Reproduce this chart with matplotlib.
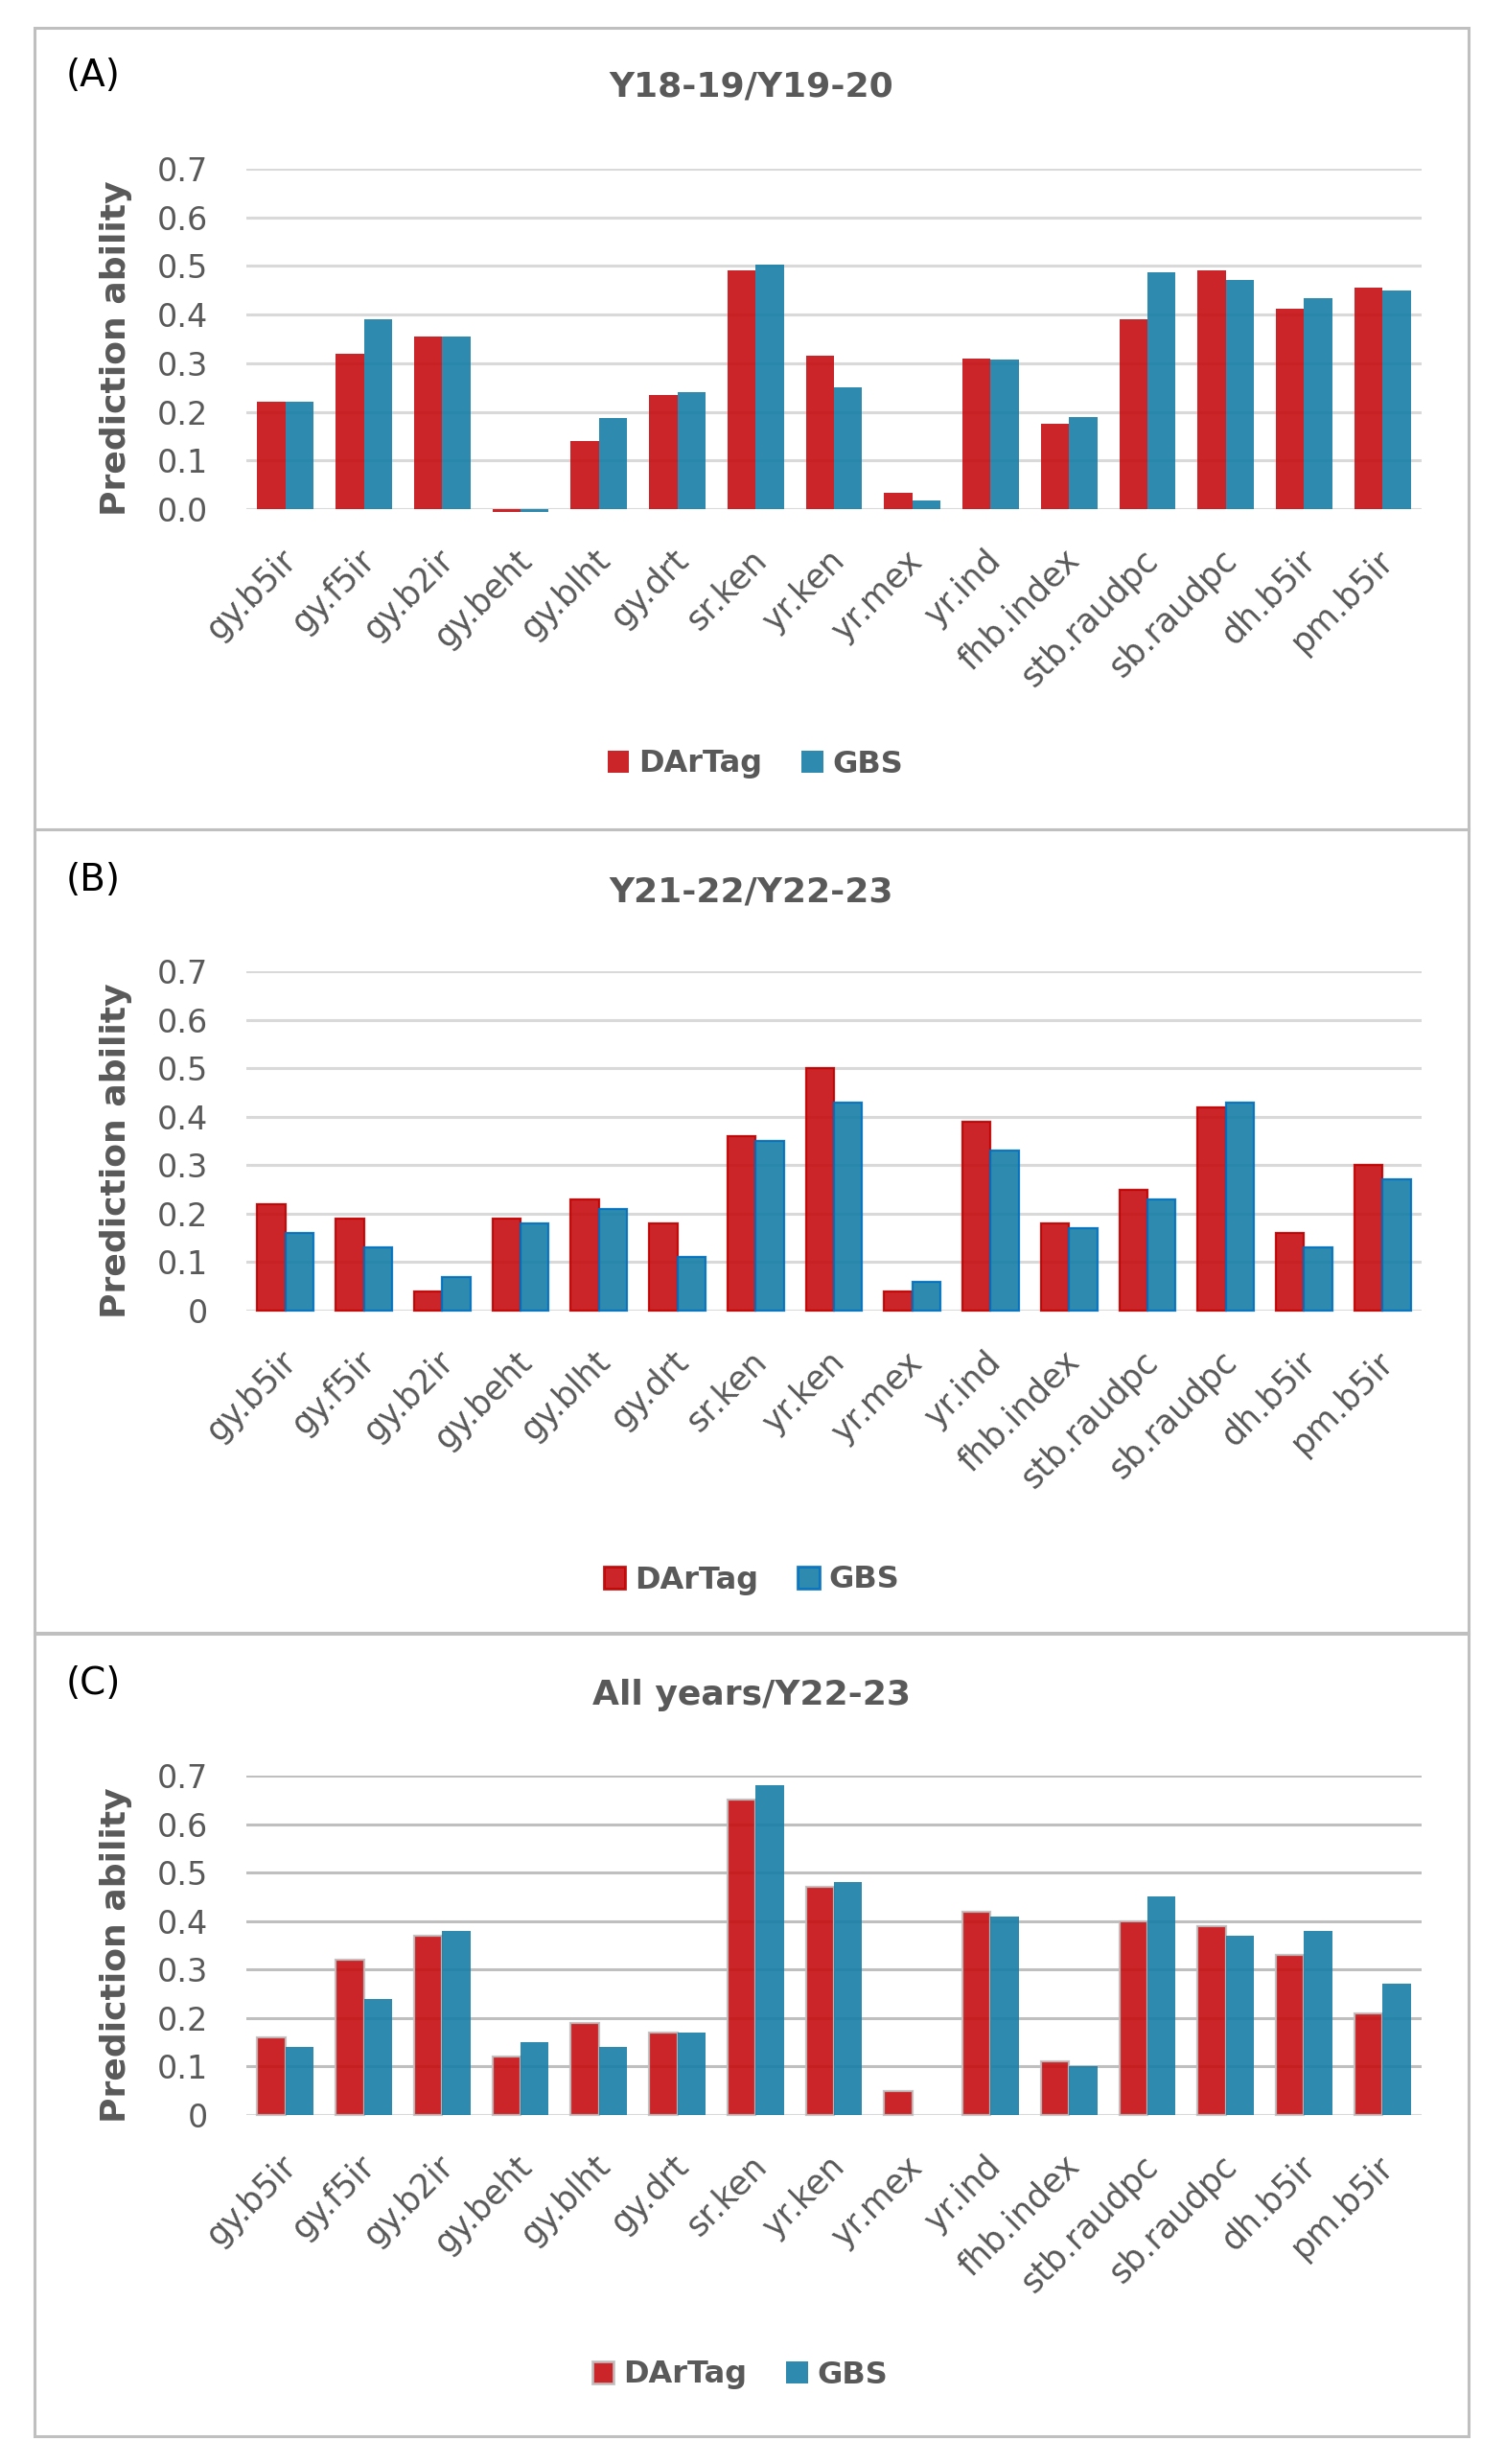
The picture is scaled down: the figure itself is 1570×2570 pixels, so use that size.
import matplotlib
matplotlib.use("Agg")
import matplotlib.pyplot as plt
from matplotlib.patches import Patch, Rectangle
from matplotlib.transforms import ScaledTranslation

# Trait names on the x axis
traits = ["gy.b5ir", "gy.f5ir", "gy.b2ir", "gy.beht", "gy.blht", "gy.drt",
          "sr.ken", "yr.ken", "yr.mex", "yr.ind", "fhb.index", "stb.raudpc",
          "sb.raudpc", "dh.b5ir", "pm.b5ir"]

# (A) Y18-19/Y19-20
dartag_a = [0.22, 0.32, 0.355, -0.005, 0.14, 0.235, 0.49, 0.315, 0.033, 0.31,
            0.175, 0.39, 0.49, 0.413, 0.455]
gbs_a = [0.22, 0.39, 0.355, -0.005, 0.188, 0.24, 0.503, 0.25, 0.017, 0.308,
         0.19, 0.487, 0.472, 0.433, 0.449]

# (B) Y21-22/Y22-23
dartag_b = [0.22, 0.19, 0.04, 0.19, 0.23, 0.18, 0.36, 0.50, 0.04, 0.39,
            0.18, 0.25, 0.42, 0.16, 0.30]
gbs_b = [0.16, 0.13, 0.07, 0.18, 0.21, 0.11, 0.35, 0.43, 0.06, 0.33,
         0.17, 0.23, 0.43, 0.13, 0.27]

# (C) All years/Y22-23
dartag_c = [0.16, 0.32, 0.37, 0.12, 0.19, 0.17, 0.65, 0.47, 0.05, 0.42,
            0.11, 0.40, 0.39, 0.33, 0.21]
gbs_c = [0.14, 0.24, 0.38, 0.15, 0.14, 0.17, 0.68, 0.48, 0.0, 0.41,
         0.10, 0.45, 0.37, 0.38, 0.27]

titles = ["Y18-19/Y19-20", "Y21-22/Y22-23", "All years/Y22-23"]
panel_labels = ["(A)", "(B)", "(C)"]
y_ticks = [0.0, 0.1, 0.2, 0.3, 0.4, 0.5, 0.6, 0.7]

RED = "#C60D11"
BLUE = "#177EA7"
GREY_TXT = "#595959"
W, H = 1570, 2570

plt.rcParams["font.family"] = ["DejaVu Sans"]

fig = plt.figure(figsize=(W / 100, H / 100), dpi=100)


def fx(x):
    return x / W


def fy(y):
    return 1 - y / H


# layout of each panel in pixels: box top/bottom, title y, axes top/bottom, legend centre
panels = [
    dict(box=(29, 865), title=91, axes=(176, 531), legend=(788, 797)),
    dict(box=(865, 1704), title=930, axes=(1013, 1367), legend=(784, 1648)),
    dict(box=(1703, 2541), title=1768, axes=(1852, 2206), legend=(772, 2477)),
]
series = [(dartag_a, gbs_a), (dartag_b, gbs_b), (dartag_c, gbs_c)]
# edge styles: (red edge, blue edge)
edges = [(None, None), ("#C00000", "#0070C0"), ("#BFBFBF", None)]
grid_colors = ["#D9D9D9", "#D9D9D9", "#BFBFBF"]
tick_fmt = ["{:.1f}", "{:g}", "{:g}"]

x = list(range(len(traits)))
bw = 0.36

for k, p in enumerate(panels):
    b_top, b_bot = p["box"]
    fig.patches.append(Rectangle((fx(36), fy(b_bot)), fx(1532) - fx(36), fy(b_top) - fy(b_bot),
                                 transform=fig.transFigure, fill=False,
                                 edgecolor="#BFBFBF", linewidth=2.2))

    a_top, a_bot = p["axes"]
    ax = fig.add_axes([fx(257), fy(a_bot), fx(1483) - fx(257), fy(a_top) - fy(a_bot)])
    red_vals, blue_vals = series[k]
    red_edge, blue_edge = edges[k]

    ax.bar([i - bw / 2 for i in x], red_vals, width=bw, color=RED, alpha=0.9,
           edgecolor=red_edge if red_edge else "none", linewidth=1.6 if red_edge else 0,
           zorder=3, clip_on=False)
    ax.bar([i + bw / 2 for i in x], blue_vals, width=bw, color=BLUE, alpha=0.9,
           edgecolor=blue_edge if blue_edge else "none", linewidth=1.6 if blue_edge else 0,
           zorder=3, clip_on=False)

    ax.set_xlim(-0.5, len(traits) - 0.5)
    ax.set_ylim(0, 0.7)
    ax.set_yticks(y_ticks)
    ax.set_yticklabels([tick_fmt[k].format(v) for v in y_ticks])
    for v in y_ticks[1:]:
        ax.axhline(v, color=grid_colors[k], linewidth=2.2, zorder=1)
    ax.axhline(0, color="#D9D9D9", linewidth=2.2, zorder=2)

    for s in ax.spines.values():
        s.set_visible(False)
    ax.tick_params(axis="y", length=0, pad=29, labelsize=24, labelcolor=GREY_TXT)
    ax.tick_params(axis="x", length=0, pad=26, labelsize=25, labelcolor=GREY_TXT)
    ax.set_xticks(x)
    ax.set_xticklabels(traits, rotation=45, ha="right", va="top", rotation_mode="anchor")
    shift = ScaledTranslation(-6 / 100, 0, fig.dpi_scale_trans)
    for lab in ax.get_xticklabels():
        lab.set_transform(lab.get_transform() + shift)

    fig.text(fx(69), fy(p["title"] - 12), panel_labels[k], ha="left", va="center",
             fontsize=28, color="black")
    fig.text(fx(784), fy(p["title"]), titles[k], ha="center", va="center",
             fontsize=26, fontweight="bold", color=GREY_TXT)
    fig.text(fx(121), fy((a_top + a_bot) / 2 + 10), "Prediction ability", rotation=90,
             ha="center", va="center", fontsize=26, fontweight="bold", color=GREY_TXT)

    handles = [
        Patch(facecolor=RED, alpha=0.9, edgecolor=red_edge if red_edge else "none",
              linewidth=2 if red_edge else 0, label="DArTag"),
        Patch(facecolor=BLUE, alpha=0.9, edgecolor=blue_edge if blue_edge else "none",
              linewidth=2 if blue_edge else 0, label="GBS"),
    ]
    lx, ly = p["legend"]
    leg = fig.legend(handles=handles, loc="center", bbox_to_anchor=(fx(lx), fy(ly)),
                     ncol=2, frameon=False, fontsize=23, handlelength=0.7, handleheight=0.7,
                     handletextpad=0.3, columnspacing=1.3)
    for t in leg.get_texts():
        t.set_color(GREY_TXT)
        t.set_fontweight("bold")

fig.savefig("out.png", dpi=100, facecolor="white")
